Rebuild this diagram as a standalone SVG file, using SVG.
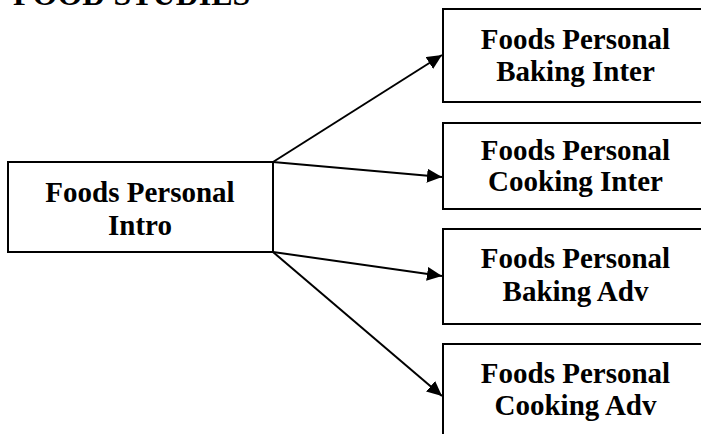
<svg xmlns="http://www.w3.org/2000/svg" width="701" height="434" viewBox="0 0 701 434">
  <style>
    .box { fill: #ffffff; stroke: #000000; stroke-width: 2; }
    .label { font-family: "Liberation Serif", "Times New Roman", serif; font-weight: bold; font-size: 29px; fill: #000000; text-anchor: middle; }
    .title { font-family: "Liberation Serif", "Times New Roman", serif; font-weight: bold; font-size: 32px; fill: #000000; }
    .link { fill: none; stroke: #000000; stroke-width: 2; marker-end: url(#arrow); }
  </style>
  <defs>
    <marker id="arrow" markerUnits="userSpaceOnUse" markerWidth="16" markerHeight="14" refX="15" refY="7" orient="auto">
      <path d="M0,0 L15,7 L0,14 z" fill="#000000"/>
    </marker>
    <clipPath id="clip-cooking-inter">
      <rect x="443" y="123" width="265" height="74"/>
    </clipPath>
  </defs>
  <rect width="701" height="434" fill="#ffffff"/>

  <text class="title" x="13" y="4.5">FOOD STUDIES</text>

  <g id="connectors">
    <line class="link" x1="273" y1="162" x2="442" y2="55"/>
    <line class="link" x1="273" y1="162" x2="442" y2="177"/>
    <line class="link" x1="273" y1="252" x2="442" y2="276"/>
    <line class="link" x1="273" y1="252" x2="442" y2="396"/>
  </g>

  <g id="intro">
    <rect class="box" x="8" y="162" width="265" height="90"/>
    <text class="label" x="140" y="201.5">Foods Personal</text>
    <text class="label" x="140" y="235">Intro</text>
  </g>

  <g id="baking-inter">
    <rect class="box" x="443" y="9" width="265" height="93"/>
    <text class="label" x="575.5" y="49">Foods Personal</text>
    <text class="label" x="575.5" y="81">Baking Inter</text>
  </g>

  <g id="cooking-inter">
    <rect class="box" x="443" y="123" width="265" height="86"/>
    <g clip-path="url(#clip-cooking-inter)">
      <text class="label" x="575.5" y="160">Foods Personal</text>
      <text class="label" x="575.5" y="191">Cooking Inter</text>
    </g>
  </g>

  <g id="baking-adv">
    <rect class="box" x="443" y="229" width="265" height="95"/>
    <text class="label" x="575.5" y="268">Foods Personal</text>
    <text class="label" x="575.5" y="301">Baking Adv</text>
  </g>

  <g id="cooking-adv">
    <rect class="box" x="443" y="344" width="265" height="100"/>
    <text class="label" x="575.5" y="383">Foods Personal</text>
    <text class="label" x="575.5" y="415">Cooking Adv</text>
  </g>
</svg>
